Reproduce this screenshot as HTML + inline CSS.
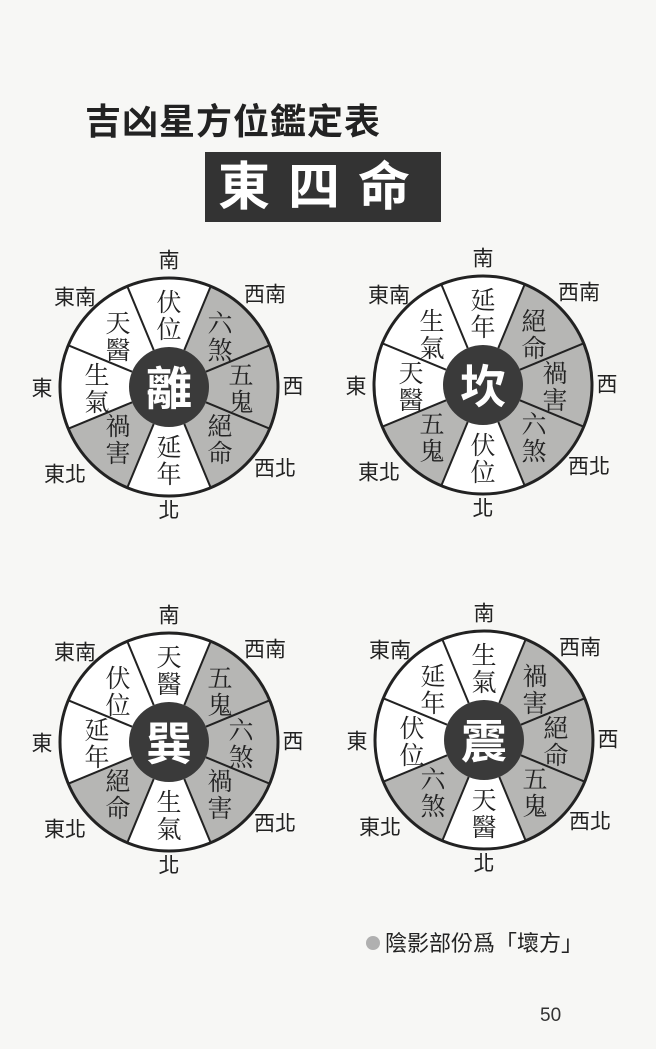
<!DOCTYPE html>
<html><head><meta charset="utf-8">
<style>
html,body{margin:0;padding:0;background:#f7f7f5;}
svg{display:block;}
.t{font-family:"Liberation Sans","Noto Sans CJK TC",sans-serif;}
.s{font-family:"Noto Serif CJK SC","Noto Sans CJK TC",serif;font-size:25px;fill:#222;}
.d{font-family:"Liberation Sans","Noto Sans CJK TC",sans-serif;font-size:21px;fill:#222;}
.c{font-family:"Liberation Sans","Noto Sans CJK TC",sans-serif;font-size:46px;font-weight:bold;fill:#fff;}
</style></head>
<body>
<svg width="656" height="1049" viewBox="0 0 656 1049" xmlns="http://www.w3.org/2000/svg">
<defs>
<path id="w" d="M0,0 L-41.7,-100.7 A109,109 0 0 1 41.7,-100.7 Z" fill="#b6b6b4"/>
<line id="l" x1="0" y1="-40" x2="0" y2="-109" stroke="#222" stroke-width="2"/>
<g id="base">
<circle r="109" fill="#fff"/>
<use href="#w" transform="rotate(45)"/>
<use href="#w" transform="rotate(90)"/>
<use href="#w" transform="rotate(135)"/>
<use href="#w" transform="rotate(225)"/>
<use href="#l" transform="rotate(22.5)"/>
<use href="#l" transform="rotate(67.5)"/>
<use href="#l" transform="rotate(112.5)"/>
<use href="#l" transform="rotate(157.5)"/>
<use href="#l" transform="rotate(202.5)"/>
<use href="#l" transform="rotate(247.5)"/>
<use href="#l" transform="rotate(292.5)"/>
<use href="#l" transform="rotate(337.5)"/>
<circle r="109" fill="none" stroke="#222" stroke-width="3"/>
<circle r="40" fill="#3a3a3a"/>
<g class="d" text-anchor="middle" dominant-baseline="central">
<text x="0" y="-126">南</text>
<text x="96" y="-92">西南</text>
<text x="124" y="0">西</text>
<text x="106" y="82">西北</text>
<text x="0" y="124">北</text>
<text x="-104" y="88">東北</text>
<text x="-127" y="2">東</text>
<text x="-94" y="-89">東南</text>
</g>
</g>
</defs>

<text x="85" y="134" class="t" font-size="36" font-weight="bold" fill="#222" letter-spacing="1">吉凶星方位鑑定表</text>
<rect x="205" y="152" width="236" height="70" fill="#333"/>
<text x="323" y="205" class="t" font-size="52" font-weight="bold" fill="#fff" text-anchor="middle" letter-spacing="18">東四命</text>

<!-- wheel 1 -->
<g transform="translate(169,387)">
<use href="#base"/>
<g class="s" text-anchor="middle" dominant-baseline="central">
<text x="0" y="-86">伏</text><text x="0" y="-59">位</text>
<text x="51" y="-65">六</text><text x="51" y="-38">煞</text>
<text x="72" y="-13">五</text><text x="72" y="14">鬼</text>
<text x="51" y="38">絕</text><text x="51" y="65">命</text>
<text x="0" y="59">延</text><text x="0" y="86">年</text>
<text x="-51" y="38">禍</text><text x="-51" y="65">害</text>
<text x="-72" y="-13">生</text><text x="-72" y="14">氣</text>
<text x="-51" y="-65">天</text><text x="-51" y="-38">醫</text>
</g>
<text class="c" x="0" y="2" text-anchor="middle" dominant-baseline="central">離</text>
</g>

<!-- wheel 2 -->
<g transform="translate(483,385)">
<use href="#base"/>
<g class="s" text-anchor="middle" dominant-baseline="central">
<text x="0" y="-86">延</text><text x="0" y="-59">年</text>
<text x="51" y="-65">絕</text><text x="51" y="-38">命</text>
<text x="72" y="-13">禍</text><text x="72" y="14">害</text>
<text x="51" y="38">六</text><text x="51" y="65">煞</text>
<text x="0" y="59">伏</text><text x="0" y="86">位</text>
<text x="-51" y="38">五</text><text x="-51" y="65">鬼</text>
<text x="-72" y="-13">天</text><text x="-72" y="14">醫</text>
<text x="-51" y="-65">生</text><text x="-51" y="-38">氣</text>
</g>
<text class="c" x="0" y="2" text-anchor="middle" dominant-baseline="central">坎</text>
</g>

<!-- wheel 3 -->
<g transform="translate(169,742)">
<use href="#base"/>
<g class="s" text-anchor="middle" dominant-baseline="central">
<text x="0" y="-86">天</text><text x="0" y="-59">醫</text>
<text x="51" y="-65">五</text><text x="51" y="-38">鬼</text>
<text x="72" y="-13">六</text><text x="72" y="14">煞</text>
<text x="51" y="38">禍</text><text x="51" y="65">害</text>
<text x="0" y="59">生</text><text x="0" y="86">氣</text>
<text x="-51" y="38">絕</text><text x="-51" y="65">命</text>
<text x="-72" y="-13">延</text><text x="-72" y="14">年</text>
<text x="-51" y="-65">伏</text><text x="-51" y="-38">位</text>
</g>
<text class="c" x="0" y="2" text-anchor="middle" dominant-baseline="central">巽</text>
</g>

<!-- wheel 4 -->
<g transform="translate(484,740)">
<use href="#base"/>
<g class="s" text-anchor="middle" dominant-baseline="central">
<text x="0" y="-86">生</text><text x="0" y="-59">氣</text>
<text x="51" y="-65">禍</text><text x="51" y="-38">害</text>
<text x="72" y="-13">絕</text><text x="72" y="14">命</text>
<text x="51" y="38">五</text><text x="51" y="65">鬼</text>
<text x="0" y="59">天</text><text x="0" y="86">醫</text>
<text x="-51" y="38">六</text><text x="-51" y="65">煞</text>
<text x="-72" y="-13">伏</text><text x="-72" y="14">位</text>
<text x="-51" y="-65">延</text><text x="-51" y="-38">年</text>
</g>
<text class="c" x="0" y="2" text-anchor="middle" dominant-baseline="central">震</text>
</g>

<circle cx="373" cy="943" r="7" fill="#b0b0b0"/>
<text x="385" y="951" class="t" font-size="22" fill="#222">陰影部份爲「壞方」</text>
<text x="540" y="1021" class="t" font-size="19" fill="#333">50</text>
</svg>
</body></html>
